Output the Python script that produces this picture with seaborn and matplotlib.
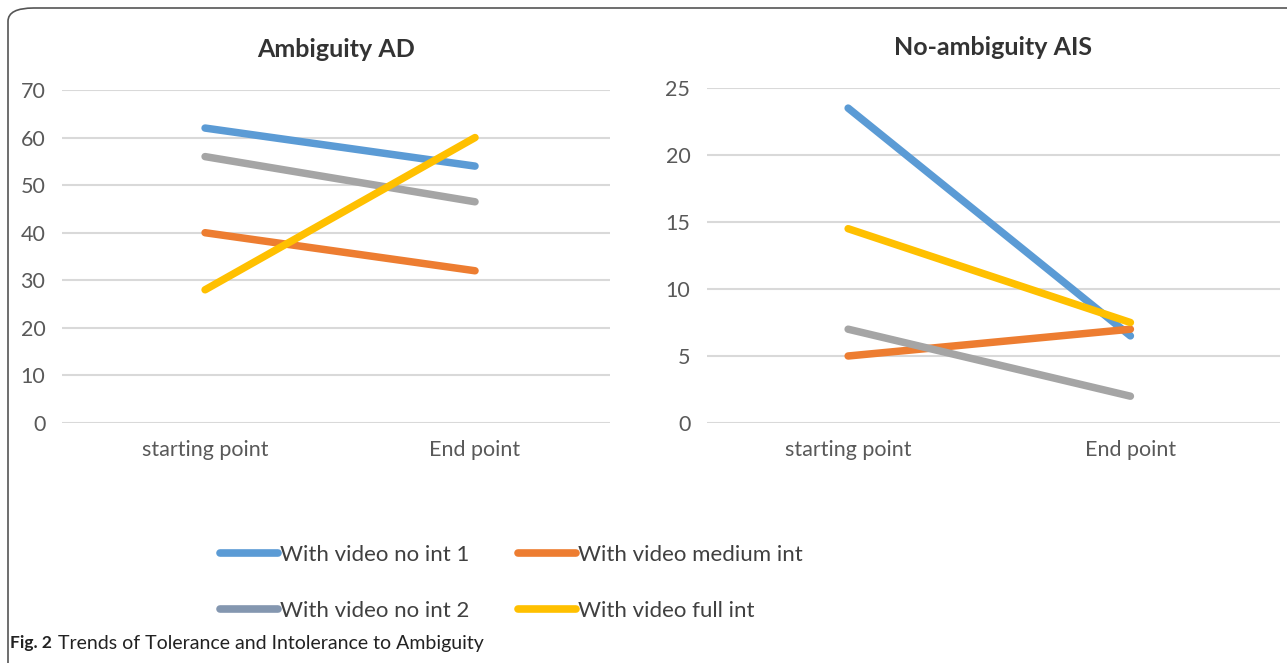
import pandas as pd
import numpy as np
import seaborn as sns
from matplotlib import pyplot as plt
from matplotlib.lines import Line2D
from matplotlib.patches import FancyBboxPatch

# Data
stages = ['starting point', 'End point']
groups = ['With video no int 1', 'With video medium int', 'With video no int 2', 'With video full int']
colors = ['#5B9BD5', '#ED7D31', '#A5A5A5', '#FFC000']
legend_colors = ['#5B9BD5', '#ED7D31', '#8497B0', '#FFC000']

ad_start = [62, 40, 56, 28]
ad_end = [54, 32, 46.5, 60]
ais_start = [23.5, 5, 7, 14.5]
ais_end = [6.5, 7, 2, 7.5]


def long_table(start, end):
    rows = []
    for g, s, e in zip(groups, start, end):
        rows.append({'group': g, 'stage': stages[0], 'value': s})
        rows.append({'group': g, 'stage': stages[1], 'value': e})
    return pd.DataFrame(rows)


sns.set_style('white')
plt.rcParams['font.family'] = ['Lato', 'DejaVu Sans']

fig = plt.figure(figsize=(12.87, 6.63), dpi=100)

# rounded frame like the journal figure box
frame = FancyBboxPatch((8 / 1287, -0.2), 1.2, 1.2 - 8 / 663, boxstyle='round,pad=0,rounding_size=0.02',
                       transform=fig.transFigure, fill=False, edgecolor='#555555', linewidth=1.2)
fig.patches.append(frame)

panels = [
    ('Ambiguity AD', ad_start, ad_end, [62 / 1287, 1 - 423 / 663, 548 / 1287, 333 / 663], 70, 10, (-0.53, 1.5)),
    ('No-ambiguity AIS', ais_start, ais_end, [707 / 1287, 1 - 423 / 663, 573 / 1287, 335 / 663], 25, 5, (-0.5, 1.53)),
]

for title, start, end, rect, ymax, step, xlim in panels:
    ax = fig.add_axes(rect)
    df = long_table(start, end)
    sns.lineplot(data=df, x='stage', y='value', hue='group', hue_order=groups,
                 palette=colors, linewidth=5.4, legend=False, ax=ax,
                 solid_capstyle='round', zorder=3)
    ax.set_ylim(0, ymax)
    ax.set_xlim(*xlim)
    ax.set_yticks(np.arange(0, ymax + 1, step))
    ax.yaxis.grid(True, color='#D9D9D9', linewidth=1.5)
    ax.set_axisbelow(True)
    for s in ax.spines.values():
        s.set_visible(False)
    ax.tick_params(axis='both', length=0, labelsize=15.5, labelcolor='#595959')
    ax.tick_params(axis='y', pad=12)
    ax.tick_params(axis='x', pad=12)
    ax.set_xlabel('')
    ax.set_ylabel('')
    ax.set_title(title, fontsize=18, fontweight='bold', color='#333333', pad=24)

handles = [Line2D([], [], color=c, linewidth=5.5) for c in legend_colors]
order = [0, 2, 1, 3]
fig.legend([handles[i] for i in order], [groups[i] for i in order],
           ncol=2, loc='center left', bbox_to_anchor=(200 / 1287, 1 - 583 / 663),
           frameon=False, fontsize=16, handlelength=2.6, handletextpad=0.1,
           columnspacing=2.2, labelspacing=1.6, labelcolor='#404040')

fig.text(10 / 1287, 1 - 643 / 663, 'Fig. 2', fontsize=12.5, fontweight='bold', va='center', color='#222222')
fig.text(58 / 1287, 1 - 643 / 663, 'Trends of Tolerance and Intolerance to Ambiguity', fontsize=14,
         va='center', color='#222222')

fig.savefig('out.png', dpi=100)
